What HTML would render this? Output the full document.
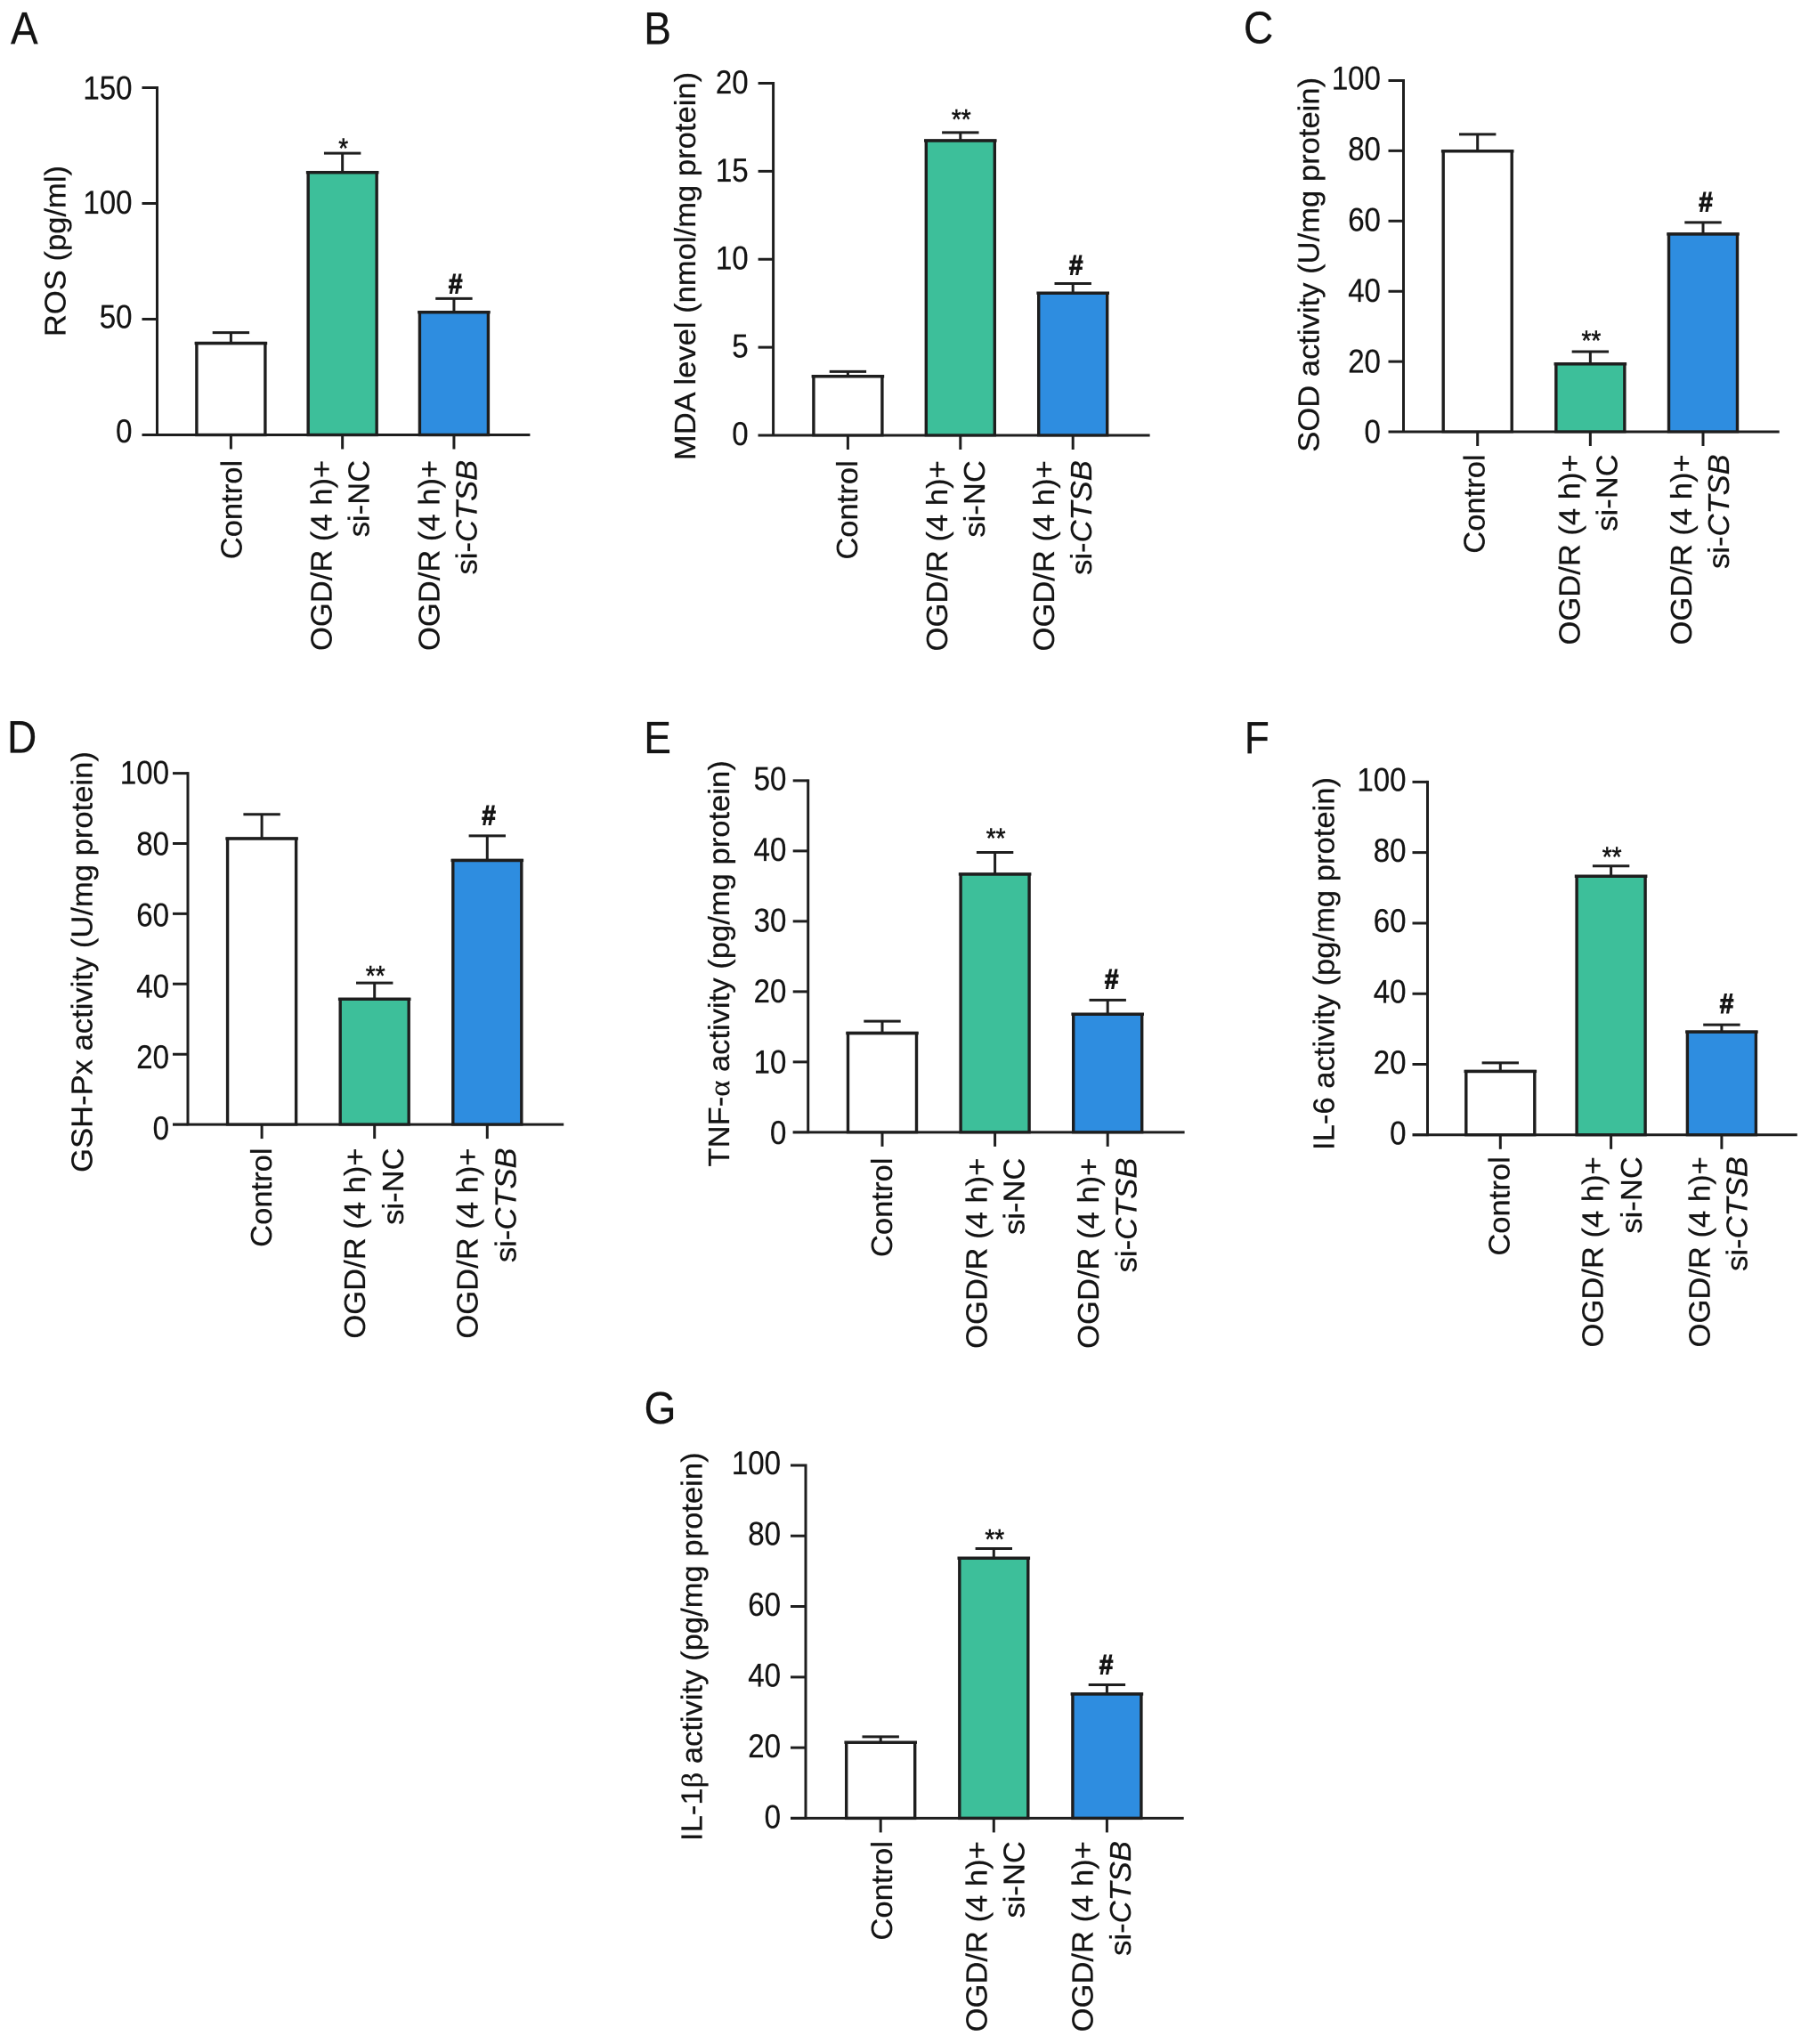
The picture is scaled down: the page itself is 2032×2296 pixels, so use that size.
<!DOCTYPE html>
<html lang="en">
<head>
<meta charset="utf-8">
<title>OGD/R oxidative stress and cytokine bar charts</title>
<style>
html,body{margin:0;padding:0;background:#fff;}
svg{display:block;}
text{font-family:"Liberation Sans",Arial,sans-serif;fill:#141414;stroke:#141414;stroke-width:0.25px;}
</style>
</head>
<body>
<svg id="figure" xmlns="http://www.w3.org/2000/svg" width="2032" height="2296" viewBox="0 0 2032 2296"></svg>
<script>
const categories = ['Control', 'OGD/R (4 h)+ si-NC', 'OGD/R (4 h)+ si-CTSB'];
const rosMeans = [39.6, 113.4, 53];
const rosErrors = [4.6, 8.3, 5.9];
const rosTicks = [0, 50, 100, 150];
const mdaMeans = [3.35, 16.74, 8.08];
const mdaErrors = [0.27, 0.46, 0.54];
const mdaTicks = [0, 5, 10, 15, 20];
const sodMeans = [79.9, 19.3, 56.3];
const sodErrors = [4.8, 3.5, 3.3];
const sodTicks = [0, 20, 40, 60, 80, 100];
const gshMeans = [81.4, 35.7, 75.2];
const gshErrors = [6.9, 4.6, 7];
const gshTicks = [0, 20, 40, 60, 80, 100];
const tnfMeans = [14.1, 36.7, 16.8];
const tnfErrors = [1.7, 3.1, 2];
const tnfTicks = [0, 10, 20, 30, 40, 50];
const il6Means = [18, 73.3, 29.2];
const il6Errors = [2.4, 2.9, 2];
const il6Ticks = [0, 20, 40, 60, 80, 100];
const il1Means = [21.5, 73.7, 35.2];
const il1Errors = [1.6, 2.7, 2.6];
const il1Ticks = [0, 20, 40, 60, 80, 100];
const significance = ['', '**', '#'];

const SVG_NS = 'http://www.w3.org/2000/svg';
const fills = ['#ffffff', '#3dbf9a', '#2e8de0'];
const INK = '#1e1e1e';
const STRETCH_H = 1.11;
const STRETCH_V = 1.048;
const DX_SHIFT = -1;
const root = document.getElementById('figure');

const panels = [
  {id:'a', letter:'A', lx:12, ly:49.4, means:rosMeans, errors:rosErrors, ticks:rosTicks, title:[['ROS (pg/ml)']], tx:73.6, ty:282,
   ax:176.5, y0:488.5, yt:98.5, xe:595.4, c0:259.4, step:125.26, top:28.3, dx:[13,-11,31,-15.6,26.6], star:4.8, hash:4.9, hdx:1.7, gap:11, tickOff:[8.3,13], first:'*'},
  {id:'b', letter:'B', lx:723.3, ly:49.4, means:mdaMeans, errors:mdaErrors, ticks:mdaTicks, title:[['MDA level (nmol/mg protein)']], tx:781.2, ty:299,
   ax:868.6, y0:489, yt:93.5, xe:1291.6, c0:952.4, step:126.4, top:28.2, dx:[11.8,-14,28,-20,22], star:-4.5, hash:8.8, hdx:3.5, gap:11, tickOff:[11.2,11.7]},
  {id:'c', letter:'C', lx:1397, ly:48.5, means:sodMeans, errors:sodErrors, ticks:sodTicks, title:[['SOD activity (U/mg protein)']], tx:1481.4, ty:297.3,
   ax:1576.5, y0:485, yt:90.5, xe:1998.7, c0:1659.7, step:126.65, top:25.3, dx:[9,-10.8,31,-12,30], star:-2, hash:11.2, hdx:3, gap:8.6, tickOff:[12.7,10.2]},
  {id:'d', letter:'D', lx:8, ly:845.5, means:gshMeans, errors:gshErrors, ticks:gshTicks, title:[['GSH-Px activity (U/mg protein)']], tx:103.5, ty:1080.5,
   ax:211, y0:1263.1, yt:868.6, xe:633.2, c0:294.1, step:126.6, top:26.3, dx:[11.8,-9.6,33.5,-9.6,33], star:2.5, hash:11.2, hdx:1.7, gap:4, tickOff:[17,12]},
  {id:'e', letter:'E', lx:723.3, ly:846, means:tnfMeans, errors:tnfErrors, ticks:tnfTicks, title:[['TNF-'],['\u03b1','serif'],[' activity (pg/mg protein)']], tx:819, ty:1082.4,
   ax:907.7, y0:1271.9, yt:876.9, xe:1330.6, c0:991, step:126.6, top:28.7, dx:[12,-8.3,34,-9,33.5], star:-5.5, hash:11.7, hdx:4.4, gap:7.4, tickOff:[13,10.7]},
  {id:'f', letter:'F', lx:1397.8, ly:846.4, means:il6Means, errors:il6Errors, ticks:il6Ticks, title:[['IL-6 activity (pg/mg protein)']], tx:1498.6, ty:1082.5,
   ax:1603.5, y0:1274.8, yt:878.4, xe:2018.8, c0:1685.3, step:124.3, top:24.4, dx:[11.3,-8.3,35.5,-12.4,29.6], star:0.5, hash:12.2, hdx:5.6, gap:7, tickOff:[10.7,10]},
  {id:'g', letter:'G', lx:723.6, ly:1599, means:il1Means, errors:il1Errors, ticks:il1Ticks, title:[['IL-1'],['\u03b2','serif'],[' activity (pg/mg protein)']], tx:788.4, ty:1849.7,
   ax:905, y0:2042.4, yt:1646, xe:1329.7, c0:989.2, step:127.1, top:25.7, dx:[14,-7,35,-15,27.5], star:0, hash:11.2, hdx:-0.9, gap:11, tickOff:[11.2,10]}
];

function make(tag, attrs, parent) {
  const el = document.createElementNS(SVG_NS, tag);
  for (const key in attrs) el.setAttribute(key, attrs[key]);
  parent.appendChild(el);
  return el;
}
function seg(parent, x1, y1, x2, y2, width) {
  return make('line', {x1:x1, y1:y1, x2:x2, y2:y2, stroke:INK, 'stroke-width':width, 'stroke-linecap':'butt'}, parent);
}
function place(x, y, rotated) {
  return 'translate(' + x + ' ' + y + ') scale(1 ' + (rotated ? STRETCH_V : STRETCH_H) + ')' + (rotated ? ' rotate(-90)' : '');
}

panels.forEach(function (p) {
  const yMax = p.ticks[p.ticks.length - 1];
  const yScale = function (v) { return p.y0 - (v / yMax) * (p.y0 - p.yt); };
  const xScale = function (i) { return p.c0 + i * p.step; };

  const g = make('g', {}, root);
  
  

  const letter = make('text', {'font-size':46, transform:place(p.lx, p.ly, false)}, g);
  letter.textContent = p.letter;
  
  

  const title = make('text', {'font-size':33, 'text-anchor':'middle', transform:place(p.tx, p.ty, true)}, g);
  p.title.forEach(function (part) {
    const span = make('tspan', part[1] ? {'font-family':'"Liberation Serif", serif'} : {}, title);
    span.textContent = part[0];
  });
  title.style.whiteSpace = 'pre';
  
  

  p.means.forEach(function (mean, i) {
    const cx = xScale(i);
    const yTop = yScale(mean);
    const yErr = yScale(mean + p.errors[i]);

    const err = make('g', {}, g);
    
    
    seg(err, cx, yTop, cx, yErr, 3);
    seg(err, cx - 20.7, yErr, cx + 20.7, yErr, 3);

    const bar = make('rect', {x:cx - 38.5, y:yTop, width:77, height:p.y0 - yTop, fill:fills[i], stroke:INK, 'stroke-width':3.4}, g);
    
    
    seg(g, cx - 40.8, yTop, cx + 40.8, yTop, 3.4);

    const sig = i === 1 && p.first ? p.first : significance[i];
    if (sig) {
      const hash = sig === '#';
      const my = hash ? yErr - p.hash - 1 : yErr + p.star;
      const mark = make('text', {'font-size':28, 'font-weight':hash ? 'bold' : 'normal', 'text-anchor':'middle', transform:place(cx + (hash ? p.hdx : 1), my, false)}, g);
      mark.style.strokeWidth = hash ? '1px' : '0.5px';
      mark.textContent = sig;
      
      
    }
  });

  const yAxis = make('g', {}, g);
  
  
  seg(yAxis, p.ax, yScale(yMax) - 1.5, p.ax, p.y0 + 1.5, 3);
  p.ticks.forEach(function (t) {
    const y = yScale(t);
    const off = p.tickOff[0] + (t / yMax) * (p.tickOff[1] - p.tickOff[0]);
    seg(yAxis, p.ax - 17, y, p.ax, y, 3);
    const label = make('text', {'font-size':33, 'text-anchor':'end', transform:place(p.ax - 17 - p.gap, y + off, false)}, yAxis);
    label.textContent = String(t);
    
    
  });

  const xAxis = make('g', {}, g);
  
  
  seg(xAxis, p.ax - 17, p.y0, p.xe, p.y0, 3);

  categories.forEach(function (cat, i) {
    const cx = xScale(i);
    seg(xAxis, cx, p.y0, cx, p.y0 + 16, 3);
    const topY = p.y0 + p.top;
    const cut = cat.indexOf('si-');
    const first = cut < 0 ? cat : cat.slice(0, cut).trim();
    const firstX = cx + p.dx[i === 0 ? 0 : (i === 1 ? 1 : 3)] + DX_SHIFT;
    const line1 = make('text', {'font-size':33, 'text-anchor':'end', transform:place(firstX, topY, true)}, xAxis);
    line1.textContent = first;
    
    
    if (cut >= 0) {
      const secondX = cx + p.dx[i === 1 ? 2 : 4] + DX_SHIFT;
      const line2 = make('text', {'font-size':33, 'text-anchor':'end', transform:place(secondX, topY, true)}, xAxis);
      const gene = cat.slice(cut + 3);
      const prefix = make('tspan', {}, line2);
      prefix.textContent = 'si-';
      const name = make('tspan', gene === 'CTSB' ? {'font-style':'italic'} : {}, line2);
      name.textContent = gene;
      
      
    }
  });
});
</script>
</body>
</html>
